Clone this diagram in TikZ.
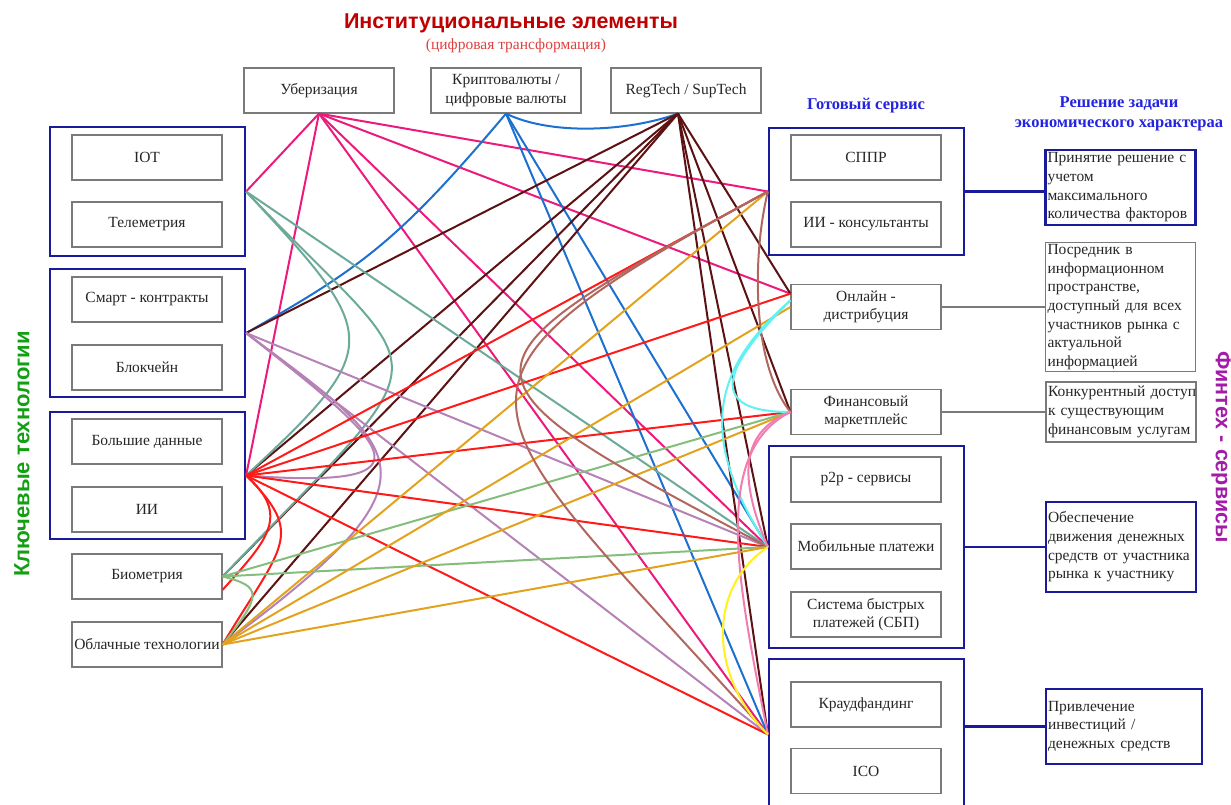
\documentclass[tikz,border=0pt]{standalone}
\usepackage{fontspec}
\setmainfont{Liberation Serif}
\newfontfamily\headsans{Liberation Sans}
\usetikzlibrary{calc}

\definecolor{navy}{HTML}{1A1A9C}
\definecolor{boxgray}{HTML}{7A7A7A}
\definecolor{titlered}{HTML}{C00000}
\definecolor{subred}{HTML}{E04040}
\definecolor{headblue}{HTML}{2424E0}
\definecolor{keygreen}{HTML}{12A012}
\definecolor{fintpurple}{HTML}{A21CA8}
\definecolor{cmag}{HTML}{EC1A7C}
\definecolor{cblue}{HTML}{1C70D0}
\definecolor{cbrown}{HTML}{5C1212}
\definecolor{cred}{HTML}{FF1A1A}
\definecolor{cteal}{HTML}{6BAA98}
\definecolor{cplum}{HTML}{B681B6}
\definecolor{cgold}{HTML}{E2A21E}
\definecolor{cgreen}{HTML}{85BD7C}
\definecolor{crosy}{HTML}{B2665E}
\definecolor{ccyan}{HTML}{60F2F2}
\definecolor{cpink}{HTML}{F27CB0}
\definecolor{cyell}{HTML}{FFF01E}

\newcommand\boxfont{\fontsize{15.5}{18.5}\selectfont}
\newcommand\notefont{\fontsize{15.5}{18.7}\selectfont}

\tikzset{
  box/.style={draw=boxgray, line width=1.2pt, minimum width=150, minimum height=45,
    inner sep=2pt, align=center, text=black!85, font=\boxfont},
  grp/.style={draw=navy, line width=2.2pt, minimum width=195},
  note/.style={draw=boxgray, line width=1.2pt, minimum width=150, text width=146,
    inner sep=2pt, align=left, text=black!85, font=\notefont},
  notebl/.style={note, draw=navy, line width=2.2pt},
  tie/.style={draw=boxgray, line width=1.2pt},
  tiebl/.style={draw=navy, line width=2.2pt},
  lk/.style={line width=2pt},
  head/.style={font=\bfseries\fontsize{16.5}{20}\selectfont, text=headblue, align=center}
}

\begin{document}
\begin{tikzpicture}[x=1pt, y=-1pt]
  \useasboundingbox (0,0) rectangle (1231,805);
  \clip (0,0) rectangle (1231,805);

  % titles
  \node[font=\headsans\bfseries\fontsize{21.5}{24}\selectfont, text=titlered] (ttl) at (511,23) {Институциональные элементы};
  \node[font=\fontsize{15.5}{18}\selectfont, text=subred] (sub) at (516,46) {(цифровая трансформация)};
  \node[head] (ready) at (866,106) {Готовый сервис};
  \node[head] (task) at (1119,114) {Решение задачи\\экономического характераа};
  \node[font=\headsans\bfseries\fontsize{22}{24}\selectfont, text=keygreen, rotate=90] (keyt) at (22,454) {Ключевые технологии};
  \node[font=\headsans\bfseries\fontsize{21.5}{24}\selectfont, text=fintpurple, rotate=-90] (fint) at (1221,447) {Финтех - сервисы};

  % top boxes
  \node[box] (ub) at (319,90.5) {Уберизация};
  \node[box] (kr) at (506,90.5) {Криптовалюты /\\цифровые валюты};
  \node[box] (rt) at (686,90.5) {RegTech / SupTech};
  \coordinate (rthub) at ($(rt.south)+(-8,0)$);

  % left groups
  \node[grp, minimum height=129] (g1) at (147.5,191.5) {};
  \node[box] (iot) at (147,157.5) {IOT};
  \node[box] (tel) at (147,224.5) {Телеметрия};
  \node[grp, minimum height=128] (g2) at (147.5,333) {};
  \node[box] (sm) at (147,299.5) {Смарт - контракты};
  \node[box] (bc) at (147,367.5) {Блокчейн};
  \node[grp, minimum height=127] (g3) at (147.5,475.5) {};
  \node[box] (bd) at (147,441.5) {Большие данные};
  \node[box] (ai) at (147,509.5) {ИИ};
  \node[box] (bio) at (147,576.5) {Биометрия};
  \node[box, inner sep=0pt] (cld) at (147,644.5) {Облачные технологии};

  % right groups
  \node[grp, minimum height=127] (rg1) at (866.5,191.5) {};
  \node[box] (sppr) at (866,157.5) {СППР};
  \node[box] (aic) at (866,224.5) {ИИ - консультанты};
  \node[box] (onl) at (866,307) {Онлайн -\\дистрибуция};
  \node[box] (fin) at (866,412) {Финансовый\\маркетплейс};
  \node[grp, minimum height=202] (mg) at (866.5,547) {};
  \node[box] (p2p) at (866,479.5) {р2р - сервисы};
  \node[box] (mob) at (866,546.5) {Мобильные платежи};
  \node[box] (sbp) at (866,614.5) {Система быстрых\\платежей (СБП)};
  \node[grp, minimum height=151] (cg) at (866.5,734.5) {};
  \node[box] (kf) at (866,704.5) {Краудфандинг};
  \node[box] (ico) at (866,771) {ICO};

  % notes on the right
  \node[notebl, minimum height=75] (nt1) at (1120.5,187.5) {Принятие решение с\\учетом\\максимального\\количества факторов};
  \node[note, minimum height=128] (nt2) at (1120.5,307) {Посредник в\\информационном\\пространстве,\\доступный для всех\\участников рынка с\\актуальной\\информацией};
  \node[note, minimum height=60] (nt3) at (1121,412) {\mbox{Конкурентный доступ}\\к существующим\\финансовым услугам};
  \node[notebl, minimum height=90] (nt4) at (1121,547) {Обеспечение\\движения денежных\\средств от участника\\рынка к участнику};
  \node[notebl, minimum width=156, text width=152, minimum height=75] (nt5) at (1124,726.5) {Привлечение\\инвестиций /\\денежных средств};

  \draw[tiebl] (rg1.east) -- (rg1.east -| nt1.west);
  \draw[tie] (onl.east) -- (nt2.west);
  \draw[tie] (fin.east) -- (nt3.west);
  \draw[tiebl] (mg.east) -- (mg.east -| nt4.west);
  \draw[tiebl] (nt5.west -| cg.east) -- (nt5.west);

  % uberization lines
  \draw[lk, cmag] (ub.south) -- (g1.east);
  \draw[lk, cmag] (ub.south) -- (g3.east);
  \draw[lk, cmag] (ub.south) -- (rg1.west);
  \draw[lk, cmag] (ub.south) -- (onl.170);
  \draw[lk, cmag] (ub.south) -- (mg.west);
  \draw[lk, cmag] (ub.south) -- (cg.west);

  % crypto lines
  \draw[lk, cblue] (kr.south) .. controls +(45,22) and +(-50,18) .. (rthub);
  \draw[lk, cblue] (kr.south) .. controls +(-107,127) and +(115,-65) .. (g2.east);
  \draw[lk, cblue] (kr.south) -- (mg.west);
  \draw[lk, cblue] (kr.south) -- (cg.west);

  % regtech lines
  \draw[lk, cbrown] (rthub) -- (g2.east);
  \draw[lk, cbrown] (rthub) -- (g3.east);
  \draw[lk, cbrown] (rthub) -- (bio.east);
  \draw[lk, cbrown] (rthub) -- (cld.east);
  \draw[lk, cbrown] (rthub) -- (onl.170);
  \draw[lk, cbrown] (rthub) -- (fin.west);
  \draw[lk, cbrown] (rthub) -- (mg.west);
  \draw[lk, cbrown] (rthub) -- (cg.west);

  % iot group
  \draw[lk, cteal] (g1.east) -- (mg.west);
  \draw[lk, cteal] (g1.east) .. controls +(135,145) and +(140,-130) .. (g3.east);
  \draw[lk, cteal] (g1.east) .. controls +(190,200) and +(230,-240) .. (bio.east);

  % smart contracts group
  \draw[lk, cplum] (g2.east) -- (mg.west);
  \draw[lk, cplum] (g2.east) -- (cg.west);
  \draw[lk, cplum] (g2.east) .. controls +(140,110) and +(200,15) .. (g3.east);
  \draw[lk, cplum] (g2.east) .. controls +(160,120) and +(230,-170) .. (cld.east);

  % big data group
  \draw[lk, cred] (g3.east) -- (rg1.west);
  \draw[lk, cred] (g3.east) -- (onl.170);
  \draw[lk, cred] (g3.east) -- (fin.west);
  \draw[lk, cred] (g3.east) -- (mg.west);
  \draw[lk, cred] (g3.east) -- (cg.west);
  \draw[lk, cred] (g3.east) .. controls +(45,40) and +(45,-50) .. (bio.-10);
  \draw[lk, cred] (g3.east) .. controls +(60,60) and +(60,-100) .. (cld.east);

  % biometrics and cloud
  \draw[lk, cgreen] (bio.east) -- (fin.west);
  \draw[lk, cgreen] (bio.east) -- (mg.west);
  \draw[lk, cgreen] (bio.east) .. controls +(40,10) and +(40,-50) .. (cld.east);
  \draw[lk, cgold] (cld.east) -- (rg1.west);
  \draw[lk, cgold] (cld.east) -- (onl.west);
  \draw[lk, cgold] (cld.east) -- (fin.west);
  \draw[lk, cgold] (cld.east) -- (mg.west);

  % between services
  \draw[lk, crosy] (rg1.west) .. controls +(-330,180) and +(-330,-175) .. (mg.west);
  \draw[lk, crosy] (rg1.west) .. controls +(-370,200) and +(-300,-335) .. (cg.west);
  \draw[lk, crosy] (rg1.west) .. controls +(-15,60) and +(-40,-50) .. (fin.west);
  \draw[lk, ccyan] (onl.175) .. controls +(-50,50) and +(-100,0) .. (fin.west);
  \draw[lk, ccyan] (onl.175) .. controls +(-80,70) and +(-70,-110) .. (mg.west);
  \draw[lk, cpink] (fin.west) .. controls +(-50,20) and +(-30,-70) .. (mg.west);
  \draw[lk, cpink] (fin.west) .. controls +(-80,40) and +(-30,-150) .. (cg.west);
  \draw[lk, cyell] (mg.west) .. controls +(-60,40) and +(-60,-60) .. (cg.west);

\end{tikzpicture}
\end{document}
